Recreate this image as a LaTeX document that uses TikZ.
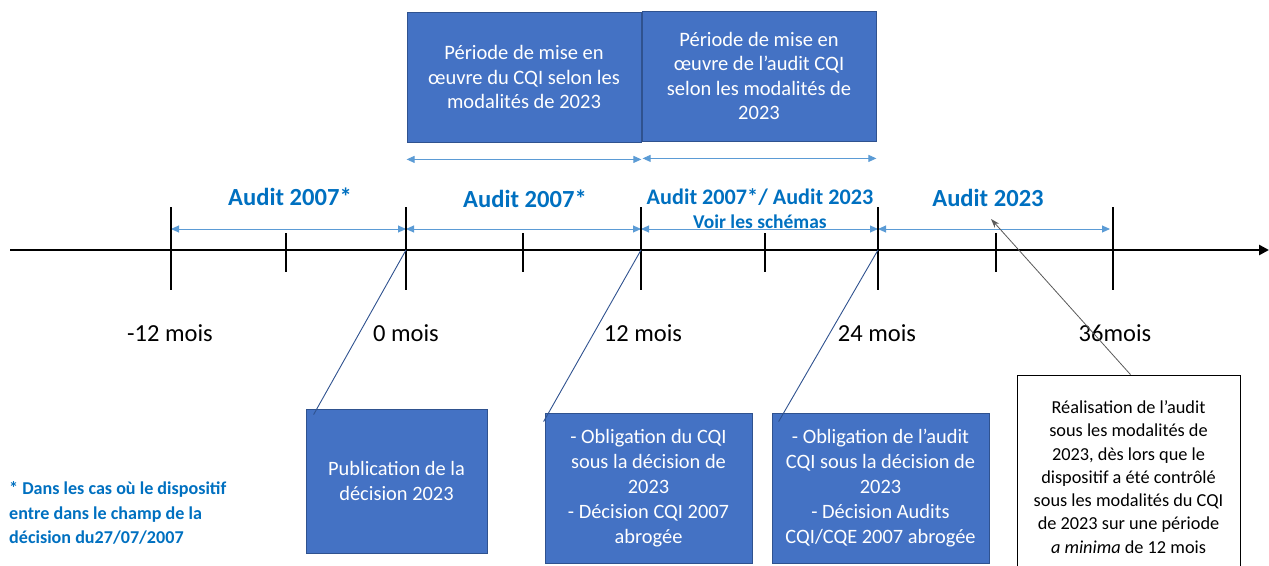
\documentclass[tikz,border=0pt]{standalone}
\usepackage{fontspec}
\setmainfont{Carlito}
\usetikzlibrary{arrows.meta,calc}
\definecolor{boxblue}{HTML}{4472C4}
\definecolor{boxedge}{HTML}{2F528F}
\definecolor{lightarrow}{HTML}{5B9BD5}
\definecolor{labelblue}{HTML}{0070C0}
\definecolor{greyline}{HTML}{595959}
\tikzset{
  bluebox/.style={draw=boxedge, line width=0.8pt, fill=boxblue, text=white, align=center, inner sep=0pt},
  topbox/.style={bluebox, minimum width=234, minimum height=130, font=\fontsize{20.5}{24.5}\selectfont},
  botbox/.style={bluebox, minimum width=207, minimum height=150, font=\fontsize{20.4}{25}\selectfont},
  dblarrow/.style={lightarrow, line width=0.9pt, {Triangle[length=8pt,width=7pt]}-{Triangle[length=8pt,width=7pt]}},
  majortick/.style={line width=2.8pt},
  minortick/.style={line width=2.8pt},
  audit/.style={text=labelblue, font=\bfseries\fontsize{24.6}{28}\selectfont},
  ticklabel/.style={font=\fontsize{24.5}{28}\selectfont},
  connector/.style={boxedge, line width=0.9pt},
}
\begin{document}
\begin{tikzpicture}[x=1pt,y=-1pt]
\useasboundingbox (0,0) rectangle (1269,565);

% top boxes
\node[topbox] (box1) at (524,77) {Période de mise en\\œuvre du CQI selon les\\modalités de 2023};
\node[topbox] (box2) at (759,76) {Période de mise en\\œuvre de l’audit CQI\\selon les modalités de\\2023};
\draw[dblarrow] ($(box1.south west)+(0,17)$) -- ($(box1.south east)+(0,17)$);
\draw[dblarrow] ($(box2.south west)+(1,17)$) -- ($(box2.south east)+(0,17)$);

% axis points
\coordinate (t0) at (171,250);
\coordinate (t1) at (406,250);
\coordinate (t2) at (641,250);
\coordinate (t3) at (878,250);
\coordinate (t4) at (1113,250);
\coordinate (axstart) at (10,250);
\coordinate (axend) at (1269,250);

% audit arrows
\draw[dblarrow] ($(t0)+(0,-21)$) -- ($(t1)+(0,-21)$);
\draw[dblarrow] ($(t1)+(0,-21)$) -- ($(t2)+(0,-21)$);
\draw[dblarrow] ($(t2)+(0,-21)$) -- ($(t3)+(0,-21)$);
\draw[dblarrow] ($(t3)+(0,-21)$) -- ($(t4)+(-3,-21)$);

\node[audit] (a1) at (290,197) {Audit 2007*};
\node[audit] (a2) at (525,199) {Audit 2007*};
\node[audit, font=\bfseries\fontsize{22.2}{26}\selectfont] (a3) at (760,197) {Audit 2007*/ Audit 2023};
\node[text=labelblue, font=\bfseries\fontsize{19.5}{22}\selectfont] (a3b) at (760,222) {Voir les schémas};
\node[audit] (a4) at (988,198) {Audit 2023};

% axis
\draw[line width=2.8pt, -{Triangle[length=10pt,width=10pt]}] (axstart) -- (axend);
\foreach \x in {171,406,641,878,1113} \draw[majortick] (\x,207) -- (\x,290);
\foreach \x in {286,523,765,996} \draw[minortick] (\x,233) -- (\x,272);

% tick labels
\node[ticklabel] (l0) at (170,333) {-12 mois};
\node[ticklabel] (l1) at (406,333) {0 mois};
\node[ticklabel] (l2) at (643,333) {12 mois};
\node[ticklabel] (l3) at (877,333) {24 mois};
\node[ticklabel] (l4) at (1115,333) {36mois};

% bottom boxes
\node[botbox, minimum width=181, minimum height=144] (bA) at (396.5,481) {Publication de la\\décision 2023};
\node[botbox] (bB) at (648.5,488) {- Obligation du CQI\\sous la décision de\\2023\\- Décision CQI 2007\\abrogée};
\node[botbox, minimum width=217] (bC) at (880.5,488) {- Obligation de l’audit\\CQI sous la décision de\\2023\\- Décision Audits\\CQI/CQE 2007 abrogée};
\node[draw=black, line width=0.8pt, fill=white, align=center, inner sep=0pt, minimum width=223, minimum height=204,
      font=\fontsize{18.3}{23.3}\selectfont] (bD) at (1128.5,477)
  {Réalisation de l’audit\\sous les modalités de\\2023, dès lors que le\\dispositif a été contrôlé\\sous les modalités du CQI\\de 2023 sur une période\\\textit{a minima} de 12 mois};

% connectors
\draw[connector] (t1) -- ($(bA.north west)+(8,6)$);
\draw[connector] (t2) -- ($(bB.north west)+(-1,9)$);
\draw[connector] (t3) -- ($(bC.north west)+(7,9)$);
\coordinate (dtip) at (991,219);
\draw[greyline, line width=0.8pt, -{Stealth[length=9pt,width=6pt]}] ($(bD.north)+(2,0)$) -- (dtip);

% footnote
\node[anchor=west, align=left, text=labelblue, inner sep=0pt, font=\bfseries\fontsize{18.1}{24.5}\selectfont] (fn) at (9,513)
  {* Dans les cas où le dispositif\\entre dans le champ de la\\décision du27/07/2007};
\end{tikzpicture}
\end{document}
